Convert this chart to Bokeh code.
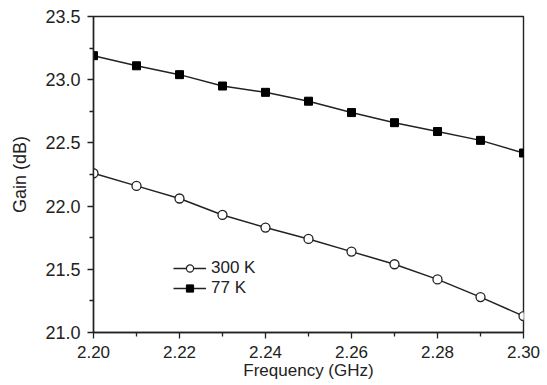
from bokeh.plotting import figure
from bokeh.models import FixedTicker, NumeralTickFormatter, Legend, LegendItem, Range1d
from bokeh.embed import file_html
from bokeh.resources import INLINE

freq = [2.20, 2.21, 2.22, 2.23, 2.24, 2.25, 2.26, 2.27, 2.28, 2.29, 2.30]
gain_300k = [22.26, 22.16, 22.06, 21.93, 21.83, 21.74, 21.64, 21.54, 21.42, 21.28, 21.13]
gain_77k = [23.19, 23.11, 23.04, 22.95, 22.90, 22.83, 22.74, 22.66, 22.59, 22.52, 22.42]
x_ticks = [2.20, 2.22, 2.24, 2.26, 2.28, 2.30]
x_minor = [2.21, 2.23, 2.25, 2.27, 2.29]
y_ticks = [21.0, 21.5, 22.0, 22.5, 23.0, 23.5]
y_minor = [21.25, 21.75, 22.25, 22.75, 23.25]

FONT = "Liberation Sans"
INK = "#222222"

p = figure(width=547, height=385, output_backend="svg", toolbar_location=None,
           x_range=Range1d(2.20, 2.30), y_range=Range1d(21.0, 23.5),
           min_border_left=93, min_border_right=24, min_border_top=16, min_border_bottom=53)
p.grid.visible = False
p.outline_line_color = INK
p.outline_line_width = 1.4
p.background_fill_color = "white"

l1 = p.line(freq, gain_300k, line_color=INK, line_width=1.5)
l2 = p.line(freq, gain_77k, line_color=INK, line_width=1.5)

# smaller markers used for the legend; hidden beneath the plot markers
lm1 = p.scatter(freq, gain_300k, marker="circle", size=6, fill_color="white", line_color=INK, line_width=1.2)
lm2 = p.scatter(freq, gain_77k, marker="square", size=6, fill_color="black", line_color="black")

p.scatter(freq, gain_300k, marker="circle", size=9, fill_color="white", line_color=INK, line_width=1.3)
p.scatter(freq, gain_77k, marker="square", size=8, fill_color="black", line_color="black")

for ax in (p.xaxis[0], p.yaxis[0]):
    ax.axis_line_color = INK
    ax.axis_line_width = 1.4
    ax.major_tick_line_color = INK
    ax.minor_tick_line_color = INK
    ax.major_tick_line_width = 1.3
    ax.minor_tick_line_width = 1.3
    ax.major_tick_in = 0
    ax.major_tick_out = 6
    ax.minor_tick_in = 0
    ax.minor_tick_out = 4
    ax.major_label_text_font = FONT
    ax.major_label_text_color = INK
    ax.axis_label_text_font = FONT
    ax.axis_label_text_font_style = "normal"
    ax.axis_label_text_color = INK

p.xaxis.major_label_text_font_size = "17px"
p.xaxis.axis_label_text_font_size = "17px"
p.yaxis.major_label_text_font_size = "18px"
p.yaxis.axis_label_text_font_size = "18px"

p.xaxis.ticker = FixedTicker(ticks=x_ticks, minor_ticks=x_minor)
p.yaxis.ticker = FixedTicker(ticks=y_ticks, minor_ticks=y_minor)
p.xaxis.formatter = NumeralTickFormatter(format="0.00")
p.yaxis.formatter = NumeralTickFormatter(format="0.0")
p.xaxis.axis_label = "Frequency (GHz)"
p.yaxis.axis_label = "Gain (dB)"
p.xaxis.major_label_standoff = 7
p.yaxis.major_label_standoff = 7
p.xaxis.axis_label_standoff = 0
p.yaxis.axis_label_standoff = 12

legend = Legend(items=[LegendItem(label="300 K", renderers=[l1, lm1]),
                       LegendItem(label="77 K", renderers=[l2, lm2])],
                location=(80, 34))
legend.border_line_color = None
legend.background_fill_alpha = 0
legend.padding = 0
legend.margin = 0
legend.spacing = -3
legend.glyph_width = 33
legend.glyph_height = 18
legend.label_height = 18
legend.label_standoff = 5
legend.label_text_font = FONT
legend.label_text_font_size = "17px"
legend.label_text_color = INK
p.add_layout(legend)

open("out.html", "w").write(file_html(p, INLINE))
